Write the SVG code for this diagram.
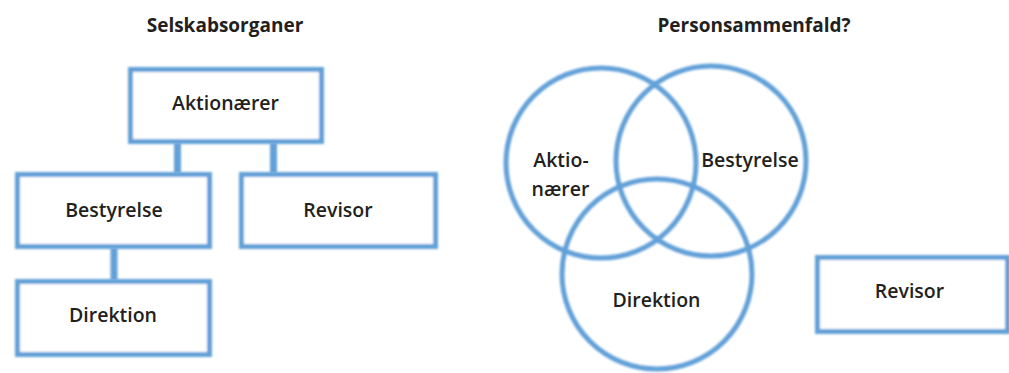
<svg xmlns="http://www.w3.org/2000/svg" width="1009" height="373" viewBox="0 0 1009 373">
  <defs>
    <filter id="soft" filterUnits="userSpaceOnUse" x="0" y="0" width="1009" height="373">
      <feGaussianBlur stdDeviation="0.8"/>
    </filter>
    <style>
      .box { fill: #ffffff; stroke: #62a0d8; stroke-width: 5; filter: url(#soft); }
      .ring { fill: none; stroke: #62a0d8; stroke-width: 5; filter: url(#soft); }
      .conn { fill: #62a0d8; stroke: none; filter: url(#soft); }
      .title { font-family: "Open Sans", "Liberation Sans", sans-serif; font-weight: 700; font-size: 19px; fill: #231f20; text-anchor: middle; }
      .lbl { font-family: "Open Sans", "Liberation Sans", sans-serif; font-weight: 600; font-size: 19.5px; fill: #231f20; text-anchor: middle; }
    </style>
  </defs>
  <rect width="1009" height="373" fill="#ffffff"/>

  <text class="title" x="225" y="32">Selskabsorganer</text>
  <text class="title" x="754" y="32">Personsammenfald?</text>

  <g id="connectors">
    <rect class="conn" x="174" y="143" width="7" height="30"/>
    <rect class="conn" x="270" y="143" width="7" height="30"/>
    <rect class="conn" x="110.5" y="248" width="7" height="32"/>
  </g>

  <g id="aktionaerer">
    <rect class="box" x="130.5" y="69.5" width="191" height="72"/>
    <text class="lbl" x="225.5" y="110">Aktionærer</text>
  </g>
  <g id="bestyrelse">
    <rect class="box" x="17.5" y="174.5" width="192" height="72"/>
    <text class="lbl" x="114" y="217">Bestyrelse</text>
  </g>
  <g id="revisor">
    <rect class="box" x="241.5" y="174.5" width="194" height="72"/>
    <text class="lbl" x="338" y="217">Revisor</text>
  </g>
  <g id="direktion">
    <rect class="box" x="17.5" y="281.5" width="192" height="73"/>
    <text class="lbl" x="113" y="322">Direktion</text>
  </g>

  <g id="venn-aktionaerer">
    <circle class="ring" cx="601" cy="163" r="95"/>
    <text class="lbl" x="561" y="167">Aktio-</text>
    <text class="lbl" x="560.5" y="196">nærer</text>
  </g>
  <g id="venn-bestyrelse">
    <circle class="ring" cx="711" cy="161" r="95"/>
    <text class="lbl" x="750" y="167">Bestyrelse</text>
  </g>
  <g id="venn-direktion">
    <circle class="ring" cx="657" cy="274" r="95"/>
    <text class="lbl" x="656.5" y="307">Direktion</text>
  </g>
  <g id="revisor-2">
    <rect class="box" x="817.5" y="257.5" width="190" height="74"/>
    <text class="lbl" x="909.5" y="298">Revisor</text>
  </g>
</svg>
